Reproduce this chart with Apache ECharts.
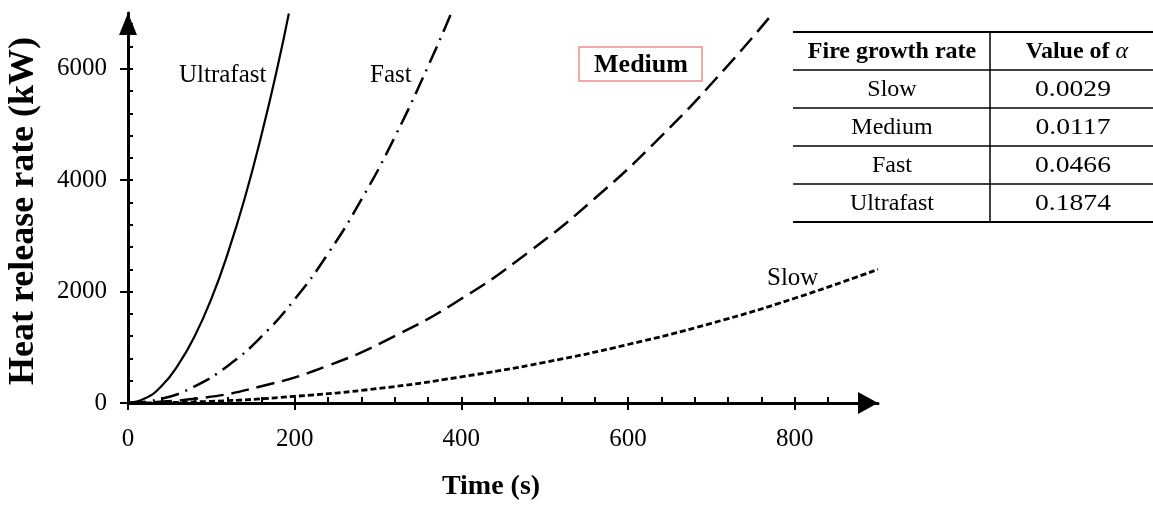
<!DOCTYPE html>
<html><head><meta charset="utf-8">
<script src="https://cdn.jsdelivr.net/npm/echarts@6/dist/echarts.min.js"></script>
<style>html,body{margin:0;padding:0;background:#fff}#c{width:1153px;height:505px}</style>
</head><body><div id="c"></div>
<script>
// Values (time in s, heat release rate in kW)
const ultrafastT = [0, 20, 40, 60, 80, 100, 120, 140, 160, 180, 193];
const ultrafastQ = [0, 80, 300, 680, 1200, 1870, 2700, 3670, 4800, 6070, 6990];
const fastT = [0, 40, 80, 120, 160, 200, 240, 280, 320, 360, 388];
const fastQ = [0, 75, 300, 670, 1190, 1860, 2680, 3650, 4770, 6040, 7000];
const mediumT = [0, 80, 160, 240, 320, 400, 480, 560, 640, 720, 774];
const mediumQ = [0, 75, 300, 670, 1200, 1870, 2700, 3670, 4790, 6060, 7000];
const slowT = [0, 100, 200, 300, 400, 500, 600, 700, 800, 900];
const slowQ = [0, 30, 120, 260, 470, 730, 1050, 1430, 1880, 2400];

const xTicks = [0, 200, 400, 600, 800];
const xMinorTicks = [0, 40, 80, 120, 160, 200, 240, 280, 320, 360, 400, 440, 480, 520, 560, 600, 640, 680, 720, 760, 800, 840, 880];
const yTicks = [0, 2000, 4000, 6000];
const yMinorTicks = [0, 400, 800, 1200, 1600, 2000, 2400, 2800, 3200, 3600, 4000, 4400, 4800, 5200, 5600, 6000, 6400, 6800];

const tableHeader = ['Fire growth rate', 'Value of α'];
const tableRates = ['Slow', 'Medium', 'Fast', 'Ultrafast'];
const tableAlpha = ['0.0029', '0.0117', '0.0466', '0.1874'];

const FONT = 'Liberation Serif';
const zip = (t, q) => t.map((v, i) => [v, q[i]]);

const chart = echarts.init(document.getElementById('c'));

const graphics = [];
// axis titles
graphics.push({type: 'text', x: 24, y: 211, rotation: Math.PI / 2,
  style: {text: 'Heat release rate (kW)', font: 'bold 36px "' + FONT + '"', fill: '#000', align: 'center', verticalAlign: 'middle'}});
graphics.push({type: 'text', x: 491, y: 487,
  style: {text: 'Time (s)', font: 'bold 28px "' + FONT + '"', fill: '#000', align: 'center', verticalAlign: 'middle'}});
// curve labels
graphics.push({type: 'text', x: 179, y: 75, style: {text: 'Ultrafast', font: '25px "' + FONT + '"', fill: '#000', align: 'left', verticalAlign: 'middle'}});
graphics.push({type: 'text', x: 370, y: 75, style: {text: 'Fast', font: '25px "' + FONT + '"', fill: '#000', align: 'left', verticalAlign: 'middle'}});
graphics.push({type: 'text', x: 767, y: 278, style: {text: 'Slow', font: '25px "' + FONT + '"', fill: '#000', align: 'left', verticalAlign: 'middle'}});
graphics.push({type: 'rect', shape: {x: 579, y: 47, width: 123, height: 34}, style: {fill: 'none', stroke: '#f08a8a', lineWidth: 1.5}});
graphics.push({type: 'text', x: 641, y: 65, style: {text: 'Medium', font: 'bold 26px "' + FONT + '"', fill: '#000', align: 'center', verticalAlign: 'middle'}});

// table
const rowLines = [32, 70, 108, 146, 184, 222];
rowLines.forEach((y, i) => {
  graphics.push({type: 'line', shape: {x1: 793, y1: y, x2: 1153, y2: y}, style: {stroke: '#000', lineWidth: (i === 0 || i === rowLines.length - 1) ? 2 : 1.5}});
});
graphics.push({type: 'line', shape: {x1: 990, y1: 32, x2: 990, y2: 222}, style: {stroke: '#000', lineWidth: 1.5}});
graphics.push({type: 'text', x: 892, y: 52, style: {text: tableHeader[0], font: 'bold 24px "' + FONT + '"', fill: '#000', align: 'center', verticalAlign: 'middle'}});
graphics.push({type: 'text', x: 1077, y: 52, style: {
  text: '{b|Value of }{a|α}', align: 'center', verticalAlign: 'middle',
  rich: {b: {font: 'bold 24px "' + FONT + '"', fill: '#000'}, a: {font: 'italic 24px "' + FONT + '"', fill: '#000'}}}});
tableRates.forEach((r, i) => {
  const cy = 90 + i * 38;
  graphics.push({type: 'text', x: 892, y: cy, style: {text: r, font: '24px "' + FONT + '"', fill: '#000', align: 'center', verticalAlign: 'middle'}});
  graphics.push({type: 'text', x: 1073, y: cy, scaleX: 1.15, style: {text: tableAlpha[i], font: '24px "' + FONT + '"', fill: '#000', align: 'center', verticalAlign: 'middle'}});
});

const axisFont = {fontFamily: FONT, fontSize: 25, color: '#000', formatter: v => String(v)};

chart.setOption({
  animation: false,
  backgroundColor: '#fff',
  grid: {left: 128, right: 275, top: 13, bottom: 102, containLabel: false},
  xAxis: [{
    type: 'value', min: 0, max: 900, interval: 200, position: 'bottom',
    axisLine: {show: true, onZero: false, lineStyle: {color: '#000', width: 3}, symbol: ['none', 'triangle'], symbolSize: [22, 20], symbolOffset: [0, -10]},
    axisTick: {show: true, inside: false, length: 7, customValues: xTicks, lineStyle: {color: '#000', width: 2}},
    axisLabel: Object.assign({show: true, margin: 24, customValues: xTicks}, axisFont),
    splitLine: {show: false}
  }, {
    type: 'value', min: 0, max: 900, interval: 200, position: 'bottom',
    axisLine: {show: false, onZero: false},
    axisTick: {show: true, inside: true, length: 6, customValues: xMinorTicks, lineStyle: {color: '#000', width: 2}},
    axisLabel: {show: false},
    splitLine: {show: false}
  }],
  yAxis: [{
    type: 'value', min: 0, max: 7000, interval: 2000, position: 'left',
    axisLine: {show: true, onZero: false, lineStyle: {color: '#000', width: 3}, symbol: ['none', 'triangle'], symbolSize: [18, 22], symbolOffset: [0, -11]},
    axisTick: {show: true, inside: false, length: 8, customValues: yTicks, lineStyle: {color: '#000', width: 2}},
    axisLabel: Object.assign({show: true, margin: 21, customValues: yTicks}, axisFont),
    splitLine: {show: false}
  }, {
    type: 'value', min: 0, max: 7000, interval: 2000, position: 'left',
    axisLine: {show: false, onZero: false},
    axisTick: {show: true, inside: true, length: 5, customValues: yMinorTicks, lineStyle: {color: '#000', width: 2}},
    axisLabel: {show: false},
    splitLine: {show: false}
  }],
  series: [
    {name: 'Ultrafast', type: 'line', data: zip(ultrafastT, ultrafastQ), smooth: true, symbol: 'none', lineStyle: {color: '#000', width: 2.2, type: 'solid'}},
    {name: 'Fast', type: 'line', data: zip(fastT, fastQ), smooth: true, symbol: 'none', lineStyle: {color: '#000', width: 2.5, type: [18, 7, 2, 7]}},
    {name: 'Medium', type: 'line', data: zip(mediumT, mediumQ), smooth: true, symbol: 'none', lineStyle: {color: '#000', width: 2.5, type: [18, 8]}},
    {name: 'Slow', type: 'line', data: zip(slowT, slowQ), smooth: true, symbol: 'none', lineStyle: {color: '#000', width: 2.8, type: [6, 3]}}
  ],
  graphic: graphics
});
</script></body></html>
